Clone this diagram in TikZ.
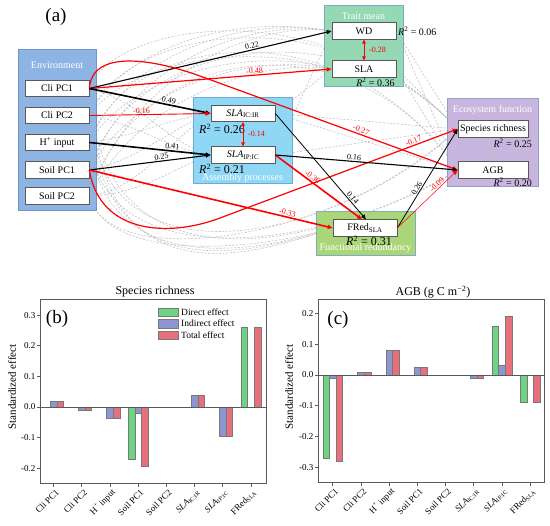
\documentclass[tikz,border=0pt]{standalone}
\usepackage{fontspec}
\setmainfont{Liberation Serif}
\usetikzlibrary{arrows.meta}
\pgfdeclarelayer{bg}
\pgfdeclarelayer{grp}
\pgfsetlayers{bg,grp,main}
\newcommand\myfs[1]{\fontsize{#1}{#1}\selectfont}
\newcommand\RR{\textit{R}\textsuperscript{2}}
\definecolor{envc}{RGB}{141,180,226}
\definecolor{envd}{RGB}{110,150,200}
\definecolor{traitc}{RGB}{148,217,180}
\definecolor{traitd}{RGB}{120,170,195}
\definecolor{asmc}{RGB}{143,216,245}
\definecolor{asmd}{RGB}{110,170,210}
\definecolor{ecoc}{RGB}{201,182,222}
\definecolor{ecod}{RGB}{140,160,205}
\definecolor{frc}{RGB}{170,214,122}
\definecolor{frd}{RGB}{130,170,195}
\definecolor{dgray}{RGB}{190,190,190}
\definecolor{gbar}{RGB}{110,212,132}
\definecolor{bbar}{RGB}{140,150,208}
\definecolor{rbar}{RGB}{232,112,122}
\definecolor{barline}{RGB}{120,120,120}
\definecolor{axc}{RGB}{90,90,90}
\begin{document}
\begin{tikzpicture}[x=1pt,y=-1pt,
  vbox/.style={draw=black!65, fill=white, line width=0.6pt, inner sep=0pt, minimum width=64pt, minimum height=16.5pt, font=\myfs{10}},
  gtitle/.style={text=white, font=\myfs{10}, inner sep=0pt},
  rtext/.style={font=\myfs{10}, inner sep=0pt},
  rbig/.style={font=\myfs{12}, inner sep=0pt},
  coef/.style={font=\myfs{8}, inner sep=1pt, sloped, above},
  arr/.style={-{Triangle[length=5pt,width=4pt]}},
  darr/.style={{Triangle[length=4pt,width=3.5pt]}-{Triangle[length=4pt,width=3.5pt]}},
  nsline/.style={dgray, dash pattern=on 2pt off 1.6pt, line width=0.55pt},
  axis/.style={axc, line width=0.8pt},
  tlab/.style={font=\myfs{9}, inner sep=0pt, anchor=east},
  xlab/.style={font=\myfs{9}, inner sep=0pt, anchor=east, rotate=45},
  bar/.style={draw=barline, line width=0.5pt},
  leg/.style={font=\myfs{9.5}, inner sep=0pt, anchor=west},
  plab/.style={font=\myfs{19}, inner sep=0pt},
]
\useasboundingbox (0,0) rectangle (550,526);
\begin{pgfonlayer}{bg}
\fill[white] (0,0) rectangle (550,526);
\end{pgfonlayer}

% ---------- nodes of panel (a)
\node[vbox] (cli1) at (57,88.5) {Cli PC1};
\node[vbox] (cli2) at (57,115.5) {Cli PC2};
\node[vbox] (hin) at (57,142.5) {H\textsuperscript{+} input};
\node[vbox] (soil1) at (57,170) {Soil PC1};
\node[vbox] (soil2) at (57,196) {Soil PC2};
\node[vbox] (wd) at (364,31) {WD};
\node[vbox] (sla) at (364,69) {SLA};
\node[vbox] (icir) at (243,113.5) {\textit{SLA}\textsubscript{IC:IR}};
\node[vbox] (ipic) at (243,155) {\textit{SLA}\textsubscript{IP:IC}};
\node[vbox, minimum width=70pt] (sr) at (493,129) {Species richness};
\node[vbox, minimum width=70pt] (agb) at (493,170) {AGB};
\node[vbox] (fred) at (365,228) {FRed\textsubscript{SLA}};

% ---------- non-significant paths
\begin{pgfonlayer}{bg}
\foreach \s/\t/\ax/\ay/\bx/\by in {
  cli2/wd/118/55/220/12, hin/wd/122/62/230/14, soil1/wd/126/70/240/17, soil2/wd/130/78/250/20,
  cli2/sla/125/65/240/40, hin/sla/130/75/250/45, soil1/sla/135/85/255/52, soil2/sla/140/95/265/58,
  cli2/sr/120/30/330/-10, hin/agb/125/35/340/0, soil1/sr/130/40/345/5, soil2/agb/135/45/350/10,
  cli1/sr/110/25/320/-15,
  cli2/ipic/140/125/170/150, hin/icir/140/135/170/118, soil1/icir/140/160/175/125,
  soil2/icir/140/190/180/130, soil2/ipic/140/195/180/165, cli1/ipic/140/100/170/145,
  cli1/fred/100/285/220/268, cli2/fred/104/280/230/262, hin/fred/106/272/240/258, soil2/fred/108/262/250/252,
  cli1/agb/100/300/320/250, cli2/sr/104/290/330/245, hin/agb/106/285/340/245, soil2/sr/108/275/345/240}
  {\draw[nsline] (\s.east) .. controls (\ax,\ay) and (\bx,\by) .. (\t.west);}
\foreach \s/\t in {wd/sr, wd/agb, sla/sr, sla/agb, icir/sr, icir/agb, ipic/sr, icir/sla, ipic/wd}
  {\draw[nsline] (\s.east) -- (\t.west);}
\end{pgfonlayer}

% ---------- group boxes
\begin{pgfonlayer}{grp}
\filldraw[fill=envc, draw=envd, line width=0.8pt] (18,49) rectangle (96,210);
\filldraw[fill=traitc, draw=traitd, line width=0.8pt] (324,5) rectangle (403,86);
\filldraw[fill=asmc, draw=asmd, line width=0.8pt] (193,97) rectangle (292,183);
\filldraw[fill=ecoc, draw=ecod, line width=0.8pt] (447,98) rectangle (538,186);
\filldraw[fill=frc, draw=frd, line width=0.8pt] (316,211) rectangle (415,255);
\end{pgfonlayer}
\node[gtitle] (tenv) at (57,65) {Environment};
\node[gtitle] (ttr) at (363.5,16) {Trait mean};
\node[gtitle] (tasm) at (242.5,178) {Assembly processes};
\node[gtitle] (teco) at (492.5,110) {Ecosystem function};
\node[gtitle] (tfr) at (365.5,248) {Functional redundancy};

% ---------- R2 labels
\node[rtext, anchor=west] (r1) at (398,31) {\RR{} = 0.06};
\node[rtext] (r2) at (375.5,82) {\RR{} = 0.36};
\node[rbig, anchor=west] (r3) at (199,129) {\RR{} = 0.26};
\node[rbig, anchor=west] (r4) at (199,169) {\RR{} = 0.21};
\node[rtext, anchor=east] (r5) at (532,143) {\RR{} = 0.25};
\node[rtext, anchor=east] (r6) at (532,182) {\RR{} = 0.20};
\node[rbig] (r7) at (369,241) {\RR{} = 0.31};
\node[plab] (pa) at (56,17) {(a)};

% ---------- significant paths
\draw[black, line width=1.1pt, arr] (cli1.east) -- node[coef, pos=0.675]{0.22} (wd.west);
\draw[red, line width=1.2pt, arr] (cli1.east) -- node[coef, pos=0.683]{-0.48} (sla.west);
\draw[black, line width=1.6pt, arr] (cli1.east) -- node[coef, pos=0.648]{0.49} (icir.west);
\draw[red, line width=0.9pt, arr] (cli2.east) -- node[coef, pos=0.43]{-0.16} (icir.west);
\draw[black, line width=1.6pt, arr] (hin.east) -- node[coef, pos=0.68]{0.41} (ipic.west);
\draw[black, line width=1.1pt, arr] (soil1.east) -- node[coef, pos=0.6]{0.25} (ipic.west);
\draw[red, line width=1.6pt, arr] (soil1.east) -- node[coef, pos=0.81]{-0.33} (fred.west);
\draw[red, line width=1.2pt, arr] (cli1.east) .. controls (92,50) and (150,58) .. (200,76) -- node[coef, pos=0.62]{-0.27} (agb.west);
\draw[red, line width=1.2pt, arr] (soil1.east) .. controls (100,235) and (170,237) .. (220,218) -- node[coef, pos=0.82]{-0.17} (sr.west);
\draw[black, line width=0.8pt, arr] (icir.east) -- node[coef, pos=0.82]{0.14} ([xshift=1pt]fred.north);
\draw[red, line width=1.6pt, arr] (ipic.east) -- node[coef, pos=0.4]{-0.36} ([xshift=-3pt]fred.north);
\draw[black, line width=1.1pt, arr] (ipic.east) -- node[coef, pos=0.43]{0.16} (agb.west);
\draw[black, line width=0.8pt, arr] (fred.east) -- node[coef, pos=0.38]{0.26} (sr.west);
\draw[red, line width=0.5pt, arr] (fred.east) -- node[coef, pos=0.7]{-0.09} (agb.west);
\draw[red, line width=0.8pt, darr] (wd.south) -- (sla.north);
\node[font=\myfs{8}, text=red, anchor=west, inner sep=0pt] (c28) at (369,50) {-0.28};
\draw[red, line width=0.8pt, darr] (icir.south) -- (ipic.north);
\node[font=\myfs{8}, text=red, anchor=west, inner sep=0pt] (c14) at (248,134) {-0.14};
\draw[black!25, line width=0.5pt, -{Triangle[length=3pt,width=2.5pt]}] (sr.south) -- (agb.north);

% ---------- panel (b)
\node[font=\myfs{12}, inner sep=0pt] (tb) at (155,292) {Species richness};
\node[plab] (pb) at (57,319) {(b)};
\node[font=\myfs{11}, inner sep=0pt, rotate=90] (yb) at (12,387) {Standardized effect};
\foreach \i/\d/\n/\t in {0/0/0.018/0.018, 1/0/-0.01/-0.01, 2/0/-0.038/-0.038, 3/-0.17/-0.022/-0.193, 4/0/0/0, 5/0/0.038/0.038, 6/0/-0.094/-0.094, 7/0.26/0/0.26}{
  \pgfmathsetmacro\cx{53.5+28.2*\i}
  \filldraw[bar, fill=gbar] ({\cx-9.9},407) rectangle ({\cx-3.3},{407-306*(\d)});
  \filldraw[bar, fill=bbar] ({\cx-3.3},407) rectangle ({\cx+3.3},{407-306*(\n)});
  \filldraw[bar, fill=rbar] ({\cx+3.3},407) rectangle ({\cx+9.9},{407-306*(\t)});
  \draw[axis] (\cx,483) -- (\cx,487);
}
\draw[axis] (40,299) rectangle (266,483);
\draw[axis] (40,407) -- (266,407);
\foreach \v/\lab in {0.3/0.3, 0.2/0.2, 0.1/0.1, 0/0.0, -0.1/-0.1, -0.2/-0.2}{
  \draw[axis] (37,{407-306*(\v)}) -- (40,{407-306*(\v)});
  \node[tlab] at (35.5,{407-306*(\v)}) {\lab};
}
\foreach \lab [count=\i from 0] in {Cli PC1, Cli PC2, H\textsuperscript{+} input, Soil PC1, Soil PC2, \textit{SLA}\textsubscript{IC:IR}, \textit{SLA}\textsubscript{IP:IC}, FRed\textsubscript{SLA}}{
  \node[xlab] (bx\i) at ({53.5+28.2*\i+4},491) {\lab};
}
\filldraw[bar, fill=gbar] (158,308) rectangle (178,316.5);
\filldraw[bar, fill=bbar] (158,319.5) rectangle (178,328);
\filldraw[bar, fill=rbar] (158,331) rectangle (178,339.5);
\node[leg] (l1) at (181,312) {Direct effect};
\node[leg] (l2) at (181,323.5) {Indirect effect};
\node[leg] (l3) at (181,335) {Total effect};

% ---------- panel (c)
\node[font=\myfs{12}, inner sep=0pt] (tc) at (433,292) {AGB (g C m\textsuperscript{−2})};
\node[plab] (pc) at (338,320) {(c)};
\node[font=\myfs{11}, inner sep=0pt, rotate=90] (yc) at (289,387) {Standardized effect};
\foreach \i/\d/\n/\t in {0/-0.27/-0.01/-0.28, 1/0/0.01/0.01, 2/0/0.079/0.079, 3/0/0.025/0.025, 4/0/0/0, 5/0/-0.012/-0.012, 6/0.16/0.032/0.192, 7/-0.09/0/-0.09}{
  \pgfmathsetmacro\cx{332.7+28.2*\i}
  \filldraw[bar, fill=gbar] ({\cx-9.9},375) rectangle ({\cx-3.3},{375-307*(\d)});
  \filldraw[bar, fill=bbar] ({\cx-3.3},375) rectangle ({\cx+3.3},{375-307*(\n)});
  \filldraw[bar, fill=rbar] ({\cx+3.3},375) rectangle ({\cx+9.9},{375-307*(\t)});
  \draw[axis] (\cx,482) -- (\cx,486);
}
\draw[axis] (318,299) rectangle (544,482);
\draw[axis] (318,375) -- (544,375);
\foreach \v/\lab in {0.2/0.2, 0.1/0.1, 0/0.0, -0.1/-0.1, -0.2/-0.2, -0.3/-0.3}{
  \draw[axis] (315,{375-307*(\v)}) -- (318,{375-307*(\v)});
  \node[tlab] at (313.5,{375-307*(\v)}) {\lab};
}
\foreach \lab [count=\i from 0] in {Cli PC1, Cli PC2, H\textsuperscript{+} input, Soil PC1, Soil PC2, \textit{SLA}\textsubscript{IC:IR}, \textit{SLA}\textsubscript{IP:IC}, FRed\textsubscript{SLA}}{
  \node[xlab] (cx\i) at ({332.7+28.2*\i+4},490) {\lab};
}
\end{tikzpicture}
\end{document}
